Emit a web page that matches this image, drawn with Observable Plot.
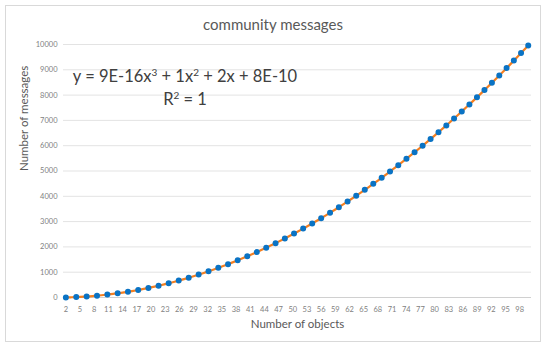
<!DOCTYPE html>
<html>
<head>
<meta charset="utf-8">
<script src="https://cdn.jsdelivr.net/npm/d3@7"></script>
<script src="https://cdn.jsdelivr.net/npm/@observablehq/plot@0.6"></script>
<style>
  html, body { margin: 0; padding: 0; background: #fff; }
  #wrap { position: relative; width: 550px; height: 350px; overflow: hidden; font-family: Lato, "Open Sans", sans-serif; }
  #frame { position: absolute; left: 5px; top: 5px; width: 536px; height: 337px; border: 1px solid #d9d9d9; box-sizing: border-box; }
  #chart { position: absolute; left: 0; top: 0; }
  #title { position: absolute; left: 0; width: 546px; top: 15px; text-align: center; font-size: 15px; color: #595959; }
  #eq { position: absolute; left: 65px; width: 240px; top: 63px; text-align: center; font-size: 16.5px; line-height: 19px; color: #404040; }
</style>
</head>
<body>
<div id="wrap">
  <div id="frame"></div>
  <div id="chart"></div>
  <div id="title">community messages</div>
  <div id="eq">y = 9E-16x<sup style="font-size:10px;vertical-align:6px">3</sup> + 1x<sup style="font-size:10px;vertical-align:6px">2</sup> + 2x + 8E-10<br>R<sup style="font-size:10px;vertical-align:6px">2</sup> = 1</div>
</div>
<script>
const objects = [2,3,4,5,6,7,8,9,10,11,12,13,14,15,16,17,18,19,20,21,22,23,24,25,26,27,28,29,30,31,32,33,34,35,36,37,38,39,40,41,42,43,44,45,46,47,48,49,50,51,52,53,54,55,56,57,58,59,60,61,62,63,64,65,66,67,68,69,70,71,72,73,74,75,76,77,78,79,80,81,82,83,84,85,86,87,88,89,90,91,92,93,94,95,96,97,98,99,100];
const messages = [3,8,15,24,35,48,63,80,99,120,143,168,195,224,255,288,323,360,399,440,483,528,575,624,675,728,783,840,899,960,1023,1088,1155,1224,1295,1368,1443,1520,1599,1680,1763,1848,1935,2024,2115,2208,2303,2400,2499,2600,2703,2808,2915,3024,3135,3248,3363,3480,3599,3720,3843,3968,4095,4224,4355,4488,4623,4760,4899,5040,5183,5328,5475,5624,5775,5928,6083,6240,6399,6560,6723,6888,7055,7224,7395,7568,7743,7920,8099,8280,8463,8648,8835,9024,9215,9408,9603,9800,9999];
const xTicks = [2,5,8,11,14,17,20,23,26,29,32,35,38,41,44,47,50,53,56,59,62,65,68,71,74,77,80,83,86,89,92,95,98];
const yTicks = [0,1000,2000,3000,4000,5000,6000,7000,8000,9000,10000];

const data = objects.map((o, i) => ({objects: o, messages: messages[i]}));

const chart = Plot.plot({
  width: 550,
  height: 350,
  marginLeft: 63,
  marginRight: 19,
  marginTop: 44,
  marginBottom: 53,
  style: {fontFamily: "Lato, 'Open Sans', sans-serif", background: "transparent", overflow: "visible"},
  x: {domain: [1.5, 100.5], label: null},
  y: {domain: [0, 10000], label: null},
  marks: [
    Plot.ruleY(yTicks.filter(d => d > 0), {stroke: "#e3e3e3", strokeWidth: 1}),
    Plot.ruleY([0], {stroke: "#d0d0d0", strokeWidth: 1}),
    Plot.axisY({ticks: yTicks, tickSize: 0, tickPadding: 6, tickFormat: d => String(d), fontSize: 7.5, color: "#7f7f7f", label: null}),
    Plot.axisX({ticks: xTicks, tickSize: 0, tickPadding: 9, tickFormat: d => String(d), fontSize: 7.5, color: "#7f7f7f", label: null}),
    Plot.text(["Number of objects"], {frameAnchor: "bottom", dy: 30, fontSize: 11.5, fill: "#595959"}),
    Plot.text(["Number of messages"], {frameAnchor: "left", dx: -39, rotate: -90, fontSize: 11.5, fill: "#595959"}),
    Plot.line(data, {x: "objects", y: "messages", stroke: "#f47f20", strokeWidth: 2.2, curve: "catmull-rom"}),
    Plot.line(data, {x: "objects", y: "messages", stroke: "#0a73c4", strokeWidth: 6, strokeLinecap: "round", strokeDasharray: "0 10.4", curve: "catmull-rom"})
  ]
});
document.getElementById("chart").appendChild(chart);
</script>
</body>
</html>
